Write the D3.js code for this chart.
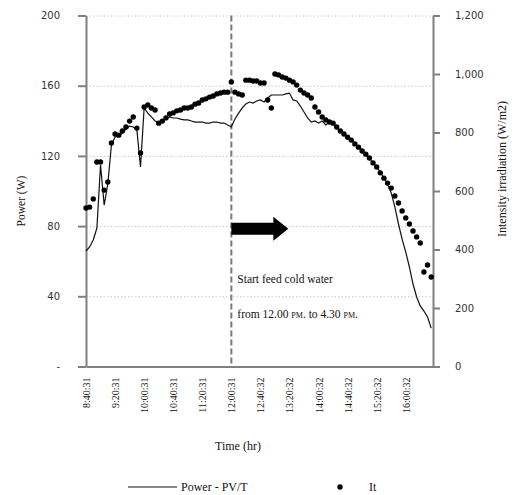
<!DOCTYPE html>
<html lang="en">
<head>
  <meta charset="UTF-8" />
  <script src="https://d3js.org/d3.v7.min.js"></script>
  <style>
    body { margin: 0; background: #fff; }
    .axis text { font-family: "DejaVu Sans", Verdana, sans-serif; font-size: 10px; fill: #333; }
    .axis .domain, .axis line { stroke: #808080; stroke-width: 2px; }
    .gridlines line { stroke: #c8c8c8; stroke-dasharray: 1.5 2; }
    .gridlines .domain { stroke: none; }
    .serif { font-family: "Liberation Serif", "Times New Roman", serif; fill: #111; }
  </style>
</head>
<body>
  <svg id="chart" width="515" height="495"></svg>
  <script>
    // x axis tick labels (every 8th reading, 5 min apart)
    const tickLabels = ["8:40:31", "9:20:31", "10:00:31", "10:40:31", "11:20:31", "12:00:31",
      "12:40:32", "13:20:32", "14:00:32", "14:40:32", "15:20:32", "16:00:32"];
    const tickIndex = [0, 8, 16, 24, 32, 40, 48, 56, 64, 72, 80, 88];

    // Power - PV/T (W)
    const powerW = [65.8, 68.1, 72.1, 78.9, 114.8, 92.0, 104.0, 126.2, 130.8, 131.3,
      133.0, 135.3, 137.0, 136.5, 134.8, 113.7, 147.3, 144.4, 142.2, 139.9,
      139.3, 139.9, 141.0, 142.2, 141.6, 141.6, 141.0, 140.5, 140.5, 139.9,
      139.3, 139.3, 139.3, 138.7, 138.7, 139.3, 139.3, 138.7, 138.7, 137.6,
      136.5, 141.0, 144.4, 147.3, 149.6, 150.7, 150.1, 151.3, 151.9, 150.7,
      153.0, 154.7, 154.7, 154.7, 154.7, 155.3, 155.8, 151.9, 151.3, 148.4,
      145.0, 141.6, 139.3, 139.9, 138.7, 139.9, 137.6, 139.3, 138.2, 135.9,
      134.2, 132.5, 130.8, 129.1, 126.8, 125.1, 122.8, 121.1, 118.8, 115.9,
      113.7, 110.8, 107.4, 104.0, 98.9, 91.0, 81.2, 72.6, 65.2, 56.7,
      47.0, 39.6, 34.5, 31.6, 28.2, 21.9];

    // It - intensity irradiation (W/m2)
    const irradiance = [542, 545, 573, 699, 699, 603, 631, 764, 795, 791,
      805, 819, 839, 853, 815, 730, 887, 894, 884, 877,
      832, 839, 850, 863, 867, 874, 877, 884, 884, 887,
      897, 901, 911, 915, 921, 925, 932, 935, 938, 938,
      973, 938, 932, 928, 979, 979, 976, 976, 969, 969,
      911, 884, 1000, 997, 990, 986, 979, 973, 962, 945,
      935, 928, 918, 887, 870, 853, 843, 836, 832, 819,
      805, 795, 784, 774, 761, 750, 737, 726, 713, 696,
      682, 662, 644, 627, 610, 583, 559, 532, 508, 487,
      463, 443, 422, 323, 347, 306];

    const powerTicks = [0, 40, 80, 120, 160, 200];
    const irrTicks = [0, 200, 400, 600, 800, 1000, 1200];
    const startFeedIndex = 40;

    const svg = d3.select("#chart");
    const plotLeft = 86, plotRight = 433, plotTop = 15.5, plotBottom = 366.5;

    const x = d3.scaleLinear().domain([0, 95.5]).range([plotLeft, plotRight]);
    const yPower = d3.scaleLinear().domain([0, 200]).range([plotBottom, plotTop]);
    const yIrr = d3.scaleLinear().domain([0, 1200]).range([plotBottom, plotTop]);

    // gridlines
    svg.append("g")
      .attr("class", "gridlines")
      .attr("transform", `translate(${plotLeft},0)`)
      .call(d3.axisLeft(yPower).tickValues(powerTicks.slice(1)).tickSize(-(plotRight - plotLeft)).tickFormat(""));

    // left axis
    svg.append("g")
      .attr("class", "axis")
      .attr("transform", `translate(${plotLeft},0)`)
      .call(d3.axisLeft(yPower).tickValues(powerTicks).tickSize(8).tickPadding(18).tickSizeOuter(0)
        .tickFormat(d => d === 0 ? "-" : d));

    // right axis
    svg.append("g")
      .attr("class", "axis")
      .attr("transform", `translate(${plotRight},0)`)
      .call(d3.axisRight(yIrr).tickValues(irrTicks).tickSize(7).tickPadding(15).tickSizeOuter(0)
        .tickFormat(d3.format(",")));

    // x axis
    const xAxis = svg.append("g")
      .attr("class", "axis")
      .attr("transform", `translate(0,${plotBottom})`)
      .call(d3.axisBottom(x).tickValues(tickIndex).tickSize(0).tickSizeOuter(0)
        .tickFormat((d, i) => tickLabels[i]));
    xAxis.selectAll("text")
      .style("font-family", "'Liberation Serif', serif")
      .style("font-size", "10px")
      .style("fill", "#111")
      .attr("text-anchor", "end")
      .attr("transform", "rotate(-90)")
      .attr("x", -11)
      .attr("y", 0)
      .attr("dy", "0.35em");

    // start-feed dashed line
    svg.append("line")
      .attr("x1", x(startFeedIndex)).attr("x2", x(startFeedIndex))
      .attr("y1", plotTop).attr("y2", plotBottom)
      .attr("stroke", "#7a7a7a").attr("stroke-width", 2)
      .attr("stroke-dasharray", "6 3");

    // power line
    svg.append("path")
      .datum(powerW)
      .attr("fill", "none")
      .attr("stroke", "#111")
      .attr("stroke-width", 1.2)
      .attr("d", d3.line().x((d, i) => x(i)).y(d => yPower(d)));

    // irradiance dots
    svg.append("g").selectAll("circle")
      .data(irradiance)
      .join("circle")
      .attr("cx", (d, i) => x(i))
      .attr("cy", d => yIrr(d))
      .attr("r", 2.7)
      .attr("fill", "#000");

    // arrow
    const ax0 = x(startFeedIndex), ay = yPower(78.5);
    svg.append("path")
      .attr("d", `M${ax0},${ay - 6} L${ax0 + 42},${ay - 6} L${ax0 + 42},${ay - 12} L${ax0 + 57},${ay}
        L${ax0 + 42},${ay + 12} L${ax0 + 42},${ay + 6} L${ax0},${ay + 6} Z`)
      .attr("fill", "#000");

    // annotation
    svg.append("text").attr("class", "serif")
      .attr("x", ax0 + 6).attr("y", 283)
      .attr("font-size", 11.5)
      .text("Start feed cold water");
    const note = svg.append("text").attr("class", "serif")
      .attr("x", ax0 + 6).attr("y", 318)
      .attr("font-size", 11.5);
    note.append("tspan").text("from 12.00 ");
    note.append("tspan").style("font-variant", "small-caps").text("pm.");
    note.append("tspan").text(" to 4.30 ");
    note.append("tspan").style("font-variant", "small-caps").text("pm.");

    // axis titles
    svg.append("text").attr("class", "serif")
      .attr("transform", `translate(25,${(plotTop + plotBottom) / 2 + 10}) rotate(-90)`)
      .attr("text-anchor", "middle").attr("font-size", 11.5)
      .text("Power (W)");
    svg.append("text").attr("class", "serif")
      .attr("transform", `translate(506,${(plotTop + plotBottom) / 2 - 22}) rotate(-90)`)
      .attr("text-anchor", "middle").attr("font-size", 12)
      .text("Intensity irradiation (W/m2)");
    svg.append("text").attr("class", "serif")
      .attr("x", 238).attr("y", 450)
      .attr("text-anchor", "middle").attr("font-size", 12)
      .text("Time (hr)");

    // legend
    const legY = 487;
    svg.append("line")
      .attr("x1", 128).attr("x2", 177).attr("y1", legY).attr("y2", legY)
      .attr("stroke", "#111").attr("stroke-width", 1.2);
    svg.append("text").attr("class", "serif")
      .attr("x", 181).attr("y", legY + 4).attr("font-size", 12)
      .text("Power - PV/T");
    svg.append("circle")
      .attr("cx", 340).attr("cy", legY).attr("r", 2.7).attr("fill", "#000");
    svg.append("text").attr("class", "serif")
      .attr("x", 369).attr("y", legY + 4).attr("font-size", 12)
      .text("It");
  </script>
</body>
</html>
